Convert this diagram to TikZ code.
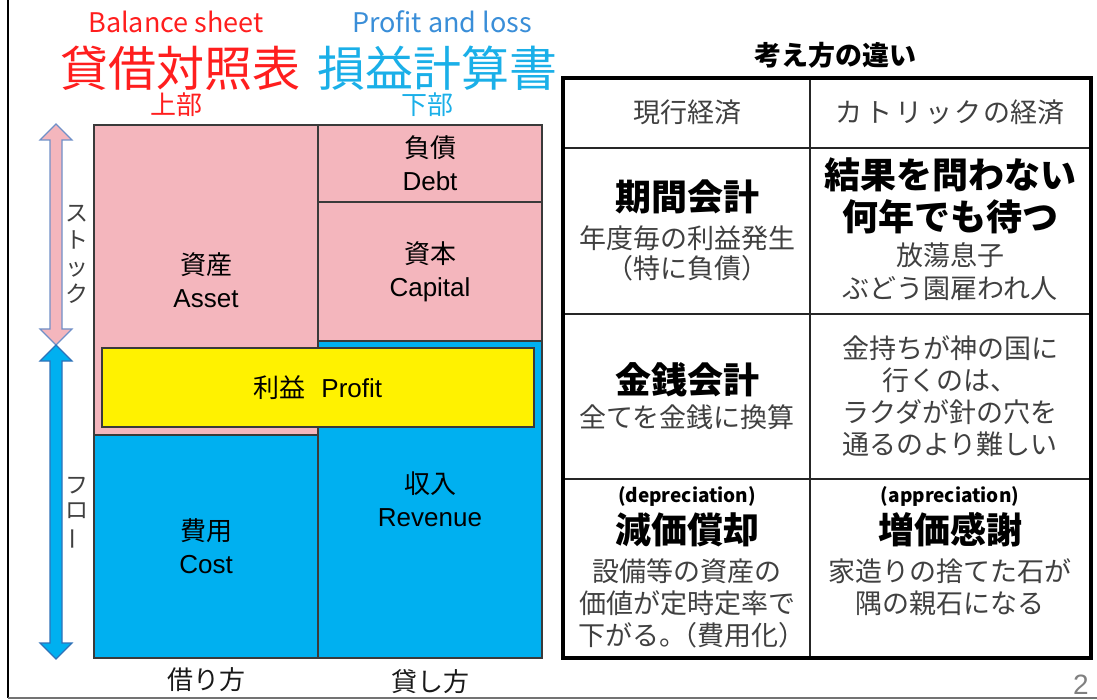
\documentclass[tikz,border=0pt]{standalone}
\usepackage{fontspec}
\usepackage{graphicx}
\setmainfont{Liberation Sans}
\newfontfamily\jp{Noto Sans CJK JP}
\newcommand\fz[2]{\fontsize{#1}{#2}\selectfont}
\definecolor{bspink}{HTML}{F4B6BD}
\definecolor{plblue}{HTML}{00B0F0}
\definecolor{titlered}{HTML}{FF1E1E}
\definecolor{plsteel}{HTML}{3A8ED8}
\definecolor{plcyan}{HTML}{1AAFE8}
\definecolor{boxline}{HTML}{3A3A3A}
\definecolor{txtgray}{HTML}{404040}
\definecolor{arrpinkline}{HTML}{7090C8}
\definecolor{arrblueline}{HTML}{2F72B8}
\begin{document}
\begin{tikzpicture}[x=1pt,y=-1pt,
  box/.style={draw=boxline, line width=1.5pt, anchor=north west, inner sep=0pt, outer sep=0pt, align=center, font=\fz{26}{33}},
  lbl/.style={inner sep=0pt, align=center},
  tline/.style={line width=2pt, draw=black!85},
  body/.style={lbl, text=txtgray, font=\jp\fz{27}{32}},
  head/.style={lbl, text=black, font=\jp\bfseries\fz{36}{42}},
  small/.style={lbl, text=black, font=\jp\bfseries\fz{19}{24}}]
\useasboundingbox (0,0) rectangle (1097,700);
% slide frame
\draw[line width=2pt, black] (8,0) -- (8,698);
\draw[line width=1.5pt, black!55] (8,698) -- (1097,698);

% titles
\node[lbl, text=titlered, font=\jp\fz{27}{30}] (bs) at (176,22) {Balance sheet};
\node[lbl, text=titlered, font=\jp\fz{48}{52}] (bsj) at (180,68) {貸借対照表};
\node[lbl, text=titlered, font=\jp\fz{26}{28}] (up) at (176,105) {上部};
\node[lbl, text=plsteel, font=\jp\fz{27}{30}] (pl) at (442,22) {Profit and loss};
\node[lbl, text=plcyan, font=\jp\fz{48}{52}] (plj) at (437,68) {損益計算書};
\node[lbl, text=plcyan, font=\jp\fz{26}{28}] (down) at (427,105) {下部};

% balance sheet boxes
\node[box, fill=bspink, minimum width=224, minimum height=310] (asset) at (94,125) {{\jp 資産}\\Asset};
\node[box, fill=plblue, minimum width=224, minimum height=223] (cost) at (94,435) {{\jp 費用}\\Cost};
\node[box, fill=bspink, minimum width=224, minimum height=77] (debt) at (318,125) {{\jp 負債}\\Debt};
\node[box, fill=bspink, minimum width=224, minimum height=139] (capital) at (318,202) {{\jp 資本}\\Capital};
\node[box, fill=plblue, minimum width=224, minimum height=317] (revenue) at (318,341) {{\jp 収入}\\Revenue};
\node[box, fill=yellow, minimum width=432, minimum height=79] (profit) at (102,348) {{\jp 利益}\hspace{0.6em}Profit};

\node[lbl, text=black!90, font=\jp\fz{26}{28}] (kari) at (206,680) {借り方};
\node[lbl, text=black!90, font=\jp\fz{26}{28}] (kashi) at (430,682) {貸し方};

% stock / flow arrows
\draw[fill=bspink, draw=arrpinkline, line width=1.2pt]
  (56,124) -- (72,140) -- (62,140) -- (62,329) -- (72,329) -- (56,345)
  -- (40,329) -- (50,329) -- (50,140) -- (40,140) -- cycle;
\draw[fill=plblue, draw=arrblueline, line width=1.2pt]
  (56,345) -- (72,361) -- (62,361) -- (62,643) -- (72,643) -- (56,659)
  -- (40,643) -- (50,643) -- (50,361) -- (40,361) -- cycle;
\node[lbl, text=txtgray, font=\jp\fz{23}{27}] (stock) at (77,254) {ス\\ト\\ッ\\ク};
\node[lbl, text=txtgray, font=\jp\fz{23}{25}] (flow) at (77,514) {フ\\ロ\\\rotatebox[origin=c]{90}{ー}};

% table
\node[lbl, font=\jp\bfseries\fz{27}{30}] (ttl) at (835,55) {考え方の違い};
\draw[tline] (810,78) -- (810,658);
\draw[tline] (563,148) -- (1091,148);
\draw[tline] (563,314) -- (1091,314);
\draw[tline] (563,479) -- (1091,479);
\draw[line width=3.2pt, black] (563,78) rectangle (1091,658);

\node[body] (h1) at (687,112) {現行経済};
\node[body] (h2) at (950,112) {カ\kern3pt ト\kern3pt リ\kern3pt ッ\kern3pt ク\kern2pt の経済};

\node[head] (a1) at (687,197) {期間会計};
\node[body, font=\jp\fz{27}{30}] (a1s) at (687,253) {年度毎の利益発生\\（特に負債）};
\node[head] (b1) at (950,196) {結果を問わない\\何年でも待つ};
\node[body, font=\jp\fz{27}{33}] (b1s) at (950,272) {放蕩息子\\ぶどう園雇われ人};

\node[head] (a2) at (687,380) {金銭会計};
\node[body] (a2s) at (687,417) {全てを金銭に換算};
\node[body] (b2) at (950,396) {金持ちが神の国に\\行くのは、\\ラクダが針の穴を\\通るのより難しい};

\node[small] (a3e) at (687,496) {(depreciation)};
\node[head] (a3) at (687,530) {減価償却};
\node[body] (a3s) at (687,603) {設備等の資産の\\価値が定時定率で\\下がる。\kern-0.6em（費用化）\kern-0.35em};
\node[small] (b3e) at (950,496) {(appreciation)};
\node[head] (b3) at (950,530) {増価感謝};
\node[body] (b3s) at (950,587) {家造りの捨てた石が\\隅の親石になる};

\node[lbl, text=black!50, font=\fz{28}{30}] (page) at (1081,685) {2};
\end{tikzpicture}
\end{document}
